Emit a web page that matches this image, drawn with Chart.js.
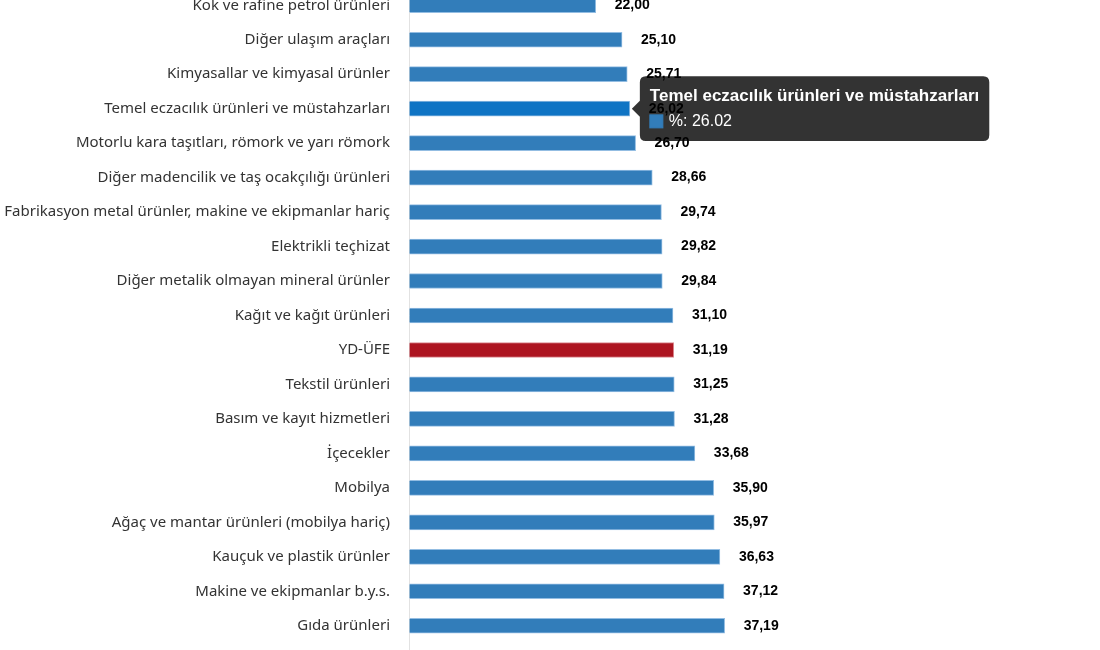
<!DOCTYPE html>
<html lang="tr">
<head>
<meta charset="utf-8">
<title>YD-ÜFE sektörel değişim</title>
<script src="https://cdn.jsdelivr.net/npm/chart.js@4.4.1/dist/chart.umd.min.js"></script>
<style>
    html, body { margin: 0; padding: 0; background: #fff; overflow: hidden; }
    #wrap { position: absolute; left: 0; top: -12px; width: 1100px; height: 663px; }
</style>
</head>
<body>
<div id="wrap"><canvas id="ufeChart"></canvas></div>
<script>
// sektörler (yukarıdan aşağıya)
const categories = [
    'Kok ve rafine petrol ürünleri',
    'Diğer ulaşım araçları',
    'Kimyasallar ve kimyasal ürünler',
    'Temel eczacılık ürünleri ve müstahzarları',
    'Motorlu kara taşıtları, römork ve yarı römork',
    'Diğer madencilik ve taş ocakçılığı ürünleri',
    'Fabrikasyon metal ürünler, makine ve ekipmanlar hariç',
    'Elektrikli teçhizat',
    'Diğer metalik olmayan mineral ürünler',
    'Kağıt ve kağıt ürünleri',
    'YD-ÜFE',
    'Tekstil ürünleri',
    'Basım ve kayıt hizmetleri',
    'İçecekler',
    'Mobilya',
    'Ağaç ve mantar ürünleri (mobilya hariç)',
    'Kauçuk ve plastik ürünler',
    'Makine ve ekipmanlar b.y.s.',
    'Gıda ürünleri'
];
// yıllık değişim, %
const values = [22.00, 25.10, 25.71, 26.02, 26.70, 28.66, 29.74, 29.82, 29.84, 31.10,
    31.19, 31.25, 31.28, 33.68, 35.90, 35.97, 36.63, 37.12, 37.19];
const seriesLabel = '%';
const totalCategory = 'YD-ÜFE';
const hoveredIndex = 3;

var barColors = [];
var barBorders = [];
var hoverColors = [];
categories.forEach(function (item) {
    if (item === totalCategory) {
        barColors.push('#ad1520');
        barBorders.push('#dc8a90');
        hoverColors.push('#ad1520');
    } else {
        barColors.push('#327dba');
        barBorders.push('#93bde2');
        hoverColors.push('#0f74c4');
    }
});

// değer etiketleri (tooltip'in de üstüne çizilir)
var valueLabels = {
    id: 'valueLabels',
    afterDraw: function (chart) {
        var ctx = chart.ctx;
        var meta = chart.getDatasetMeta(0);
        ctx.save();
        ctx.font = 'bold 14px "Liberation Sans", Arial, sans-serif';
        ctx.fillStyle = '#000';
        ctx.textAlign = 'left';
        ctx.textBaseline = 'middle';
        meta.data.forEach(function (bar, i) {
            ctx.fillText(values[i].toFixed(2).replace('.', ','), bar.x + 19, bar.y);
        });
        ctx.restore();
    }
};

var $canvas = document.getElementById('ufeChart').getContext('2d');
var chart = new Chart($canvas, {
    type: 'bar',
    data: {
        labels: categories,
        datasets: [{
            label: seriesLabel,
            data: values,
            backgroundColor: barColors,
            borderColor: barBorders,
            borderWidth: 1,
            hoverBackgroundColor: hoverColors,
            hoverBorderColor: barBorders,
            barThickness: 15
        }]
    },
    options: {
        indexAxis: 'y',
        responsive: true,
        maintainAspectRatio: false,
        animation: false,
        layout: { padding: { right: 12 } },
        scales: {
            x: {
                min: 0,
                max: 80,
                border: { display: false },
                ticks: { display: false },
                grid: {
                    color: function (ctx) { return ctx.tick && ctx.tick.value === 0 ? '#e2e2e2' : 'rgba(0,0,0,0)'; },
                    tickLength: 8
                }
            },
            y: {
                border: { display: false },
                grid: { display: false, drawTicks: false },
                afterFit: function (scale) {
                    scale.width = 409;
                    scale.paddingTop = 0;
                    scale.paddingBottom = 0;
                },
                ticks: {
                    autoSkip: false,
                    padding: 19,
                    color: '#333',
                    font: { family: '"Noto Sans", "Open Sans", sans-serif', size: 15 }
                }
            }
        },
        plugins: {
            legend: { display: false },
            tooltip: {
                backgroundColor: 'rgba(0,0,0,0.8)',
                titleFont: { family: '"Liberation Sans", Arial, sans-serif', size: 17, weight: 'bold' },
                bodyFont: { family: '"Liberation Sans", Arial, sans-serif', size: 16 },
                titleMarginBottom: 5,
                padding: 10,
                caretSize: 8,
                caretPadding: 2,
                cornerRadius: 6,
                boxWidth: 13,
                boxHeight: 13,
                boxPadding: 4,
                multiKeyBackground: '#327dba',
                callbacks: {
                    labelColor: function () {
                        return { borderColor: '#327dba', backgroundColor: '#327dba', borderWidth: 0 };
                    }
                }
            }
        }
    },
    plugins: [valueLabels]
});

var active = [{ datasetIndex: 0, index: hoveredIndex }];
chart.setActiveElements(active);
var bar = chart.getDatasetMeta(0).data[hoveredIndex];
chart.tooltip.setActiveElements(active, { x: bar.x, y: bar.y });
chart.render();
</script>
</body>
</html>
